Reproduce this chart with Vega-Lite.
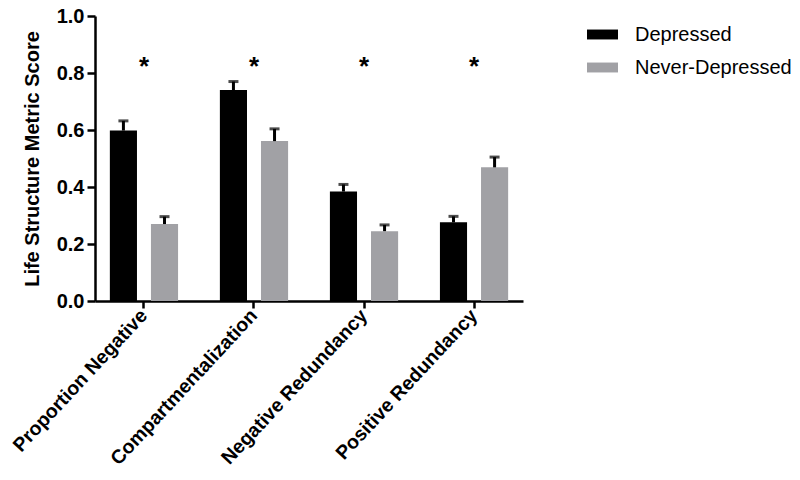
{
  "$schema": "https://vega.github.io/schema/vega-lite/v6.json",
  "width": 428,
  "height": 285,
  "autosize": "none",
  "padding": {"left": 95, "top": 16, "right": 277, "bottom": 179},
  "background": "white",
  "config": {"view": {"stroke": null}, "font": "Liberation Sans"},
  "data": {"values": [
    {"metric": "Proportion Negative", "group": "Depressed", "mean": 0.598, "upper": 0.632},
    {"metric": "Proportion Negative", "group": "Never-Depressed", "mean": 0.270, "upper": 0.296},
    {"metric": "Compartmentalization", "group": "Depressed", "mean": 0.740, "upper": 0.770},
    {"metric": "Compartmentalization", "group": "Never-Depressed", "mean": 0.561, "upper": 0.604},
    {"metric": "Negative Redundancy", "group": "Depressed", "mean": 0.384, "upper": 0.409},
    {"metric": "Negative Redundancy", "group": "Never-Depressed", "mean": 0.245, "upper": 0.267},
    {"metric": "Positive Redundancy", "group": "Depressed", "mean": 0.276, "upper": 0.297},
    {"metric": "Positive Redundancy", "group": "Never-Depressed", "mean": 0.469, "upper": 0.505}
  ]},
  "encoding": {
    "x": {
      "field": "metric", "type": "nominal",
      "sort": ["Proportion Negative", "Compartmentalization", "Negative Redundancy", "Positive Redundancy"],
      "scale": {"paddingInner": 0.38, "paddingOuter": 0.135},
      "axis": {
        "title": null, "labelAngle": -47, "labelFontSize": 19.5, "labelFontWeight": "bold", "labelLimit": 0,
        "labelColor": "black", "labelAlign": "right", "labelBaseline": "middle", "labelPadding": 4,
        "domainColor": "black", "domainWidth": 2.5, "tickColor": "black", "tickWidth": 2.5, "tickSize": 7,
        "grid": false
      }
    }
  },
  "layer": [
    {
      "mark": {"type": "bar"},
      "encoding": {
        "xOffset": {"field": "group", "type": "nominal", "scale": {"paddingInner": 0.34, "paddingOuter": 0}},
        "y": {
          "field": "mean", "type": "quantitative",
          "scale": {"domain": [0, 1], "nice": false},
          "axis": {
            "title": "Life Structure Metric Score", "titleFontSize": 20, "titleFontWeight": "bold",
            "titleColor": "black", "titlePadding": 14,
            "values": [0, 0.2, 0.4, 0.6, 0.8, 1.0], "format": ".1f",
            "labelFontSize": 20, "labelFontWeight": "bold", "labelColor": "black", "labelPadding": 3,
            "domainColor": "black", "domainWidth": 2.5, "tickColor": "black", "tickWidth": 2.5, "tickSize": 8,
            "grid": false
          }
        },
        "color": {
          "field": "group", "type": "nominal",
          "scale": {"domain": ["Depressed", "Never-Depressed"], "range": ["#000000", "#a1a1a5"]},
          "legend": {
            "title": null, "orient": "none", "legendX": 492, "legendY": 3, "padding": 0,
            "symbolType": "M-1,-0.32H1V0.32H-1Z", "symbolSize": 961, "symbolStrokeWidth": 0,
            "labelFontSize": 20, "labelColor": "black", "labelOffset": 17, "rowPadding": 7
          }
        }
      }
    },
    {
      "mark": {"type": "rule", "color": "black", "strokeWidth": 3},
      "encoding": {
        "xOffset": {"field": "group", "type": "nominal"},
        "y": {"field": "mean", "type": "quantitative"},
        "y2": {"field": "upper"}
      }
    },
    {
      "mark": {"type": "tick", "color": "black", "thickness": 3, "size": 10},
      "encoding": {
        "xOffset": {"field": "group", "type": "nominal"},
        "y": {"field": "upper", "type": "quantitative"}
      }
    },
    {
      "transform": [{"filter": "datum.group === 'Depressed'"}],
      "mark": {"type": "text", "fontSize": 26, "fontWeight": "bold", "color": "black", "baseline": "middle"},
      "encoding": {
        "y": {"datum": 0.82},
        "text": {"value": "*"}
      }
    }
  ]
}
